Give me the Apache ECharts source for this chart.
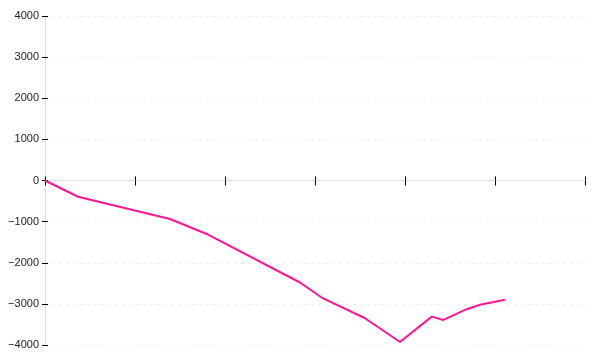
<!DOCTYPE html>
<html>
<head>
<meta charset="utf-8">
<script src="https://cdn.jsdelivr.net/npm/echarts@6/dist/echarts.min.js"></script>
<style>html,body{margin:0;padding:0;background:#fff}#c{width:600px;height:360px}</style>
</head>
<body>
<div id="c"></div>
<script>
// x positions (axis units, ticks at 0..6) and series values
var xValues = [0, 0.367, 1.389, 1.817, 2.833, 3.074, 3.556, 3.944, 4.297, 4.426, 4.686, 4.833, 5.111];
var yValues = [0, -395, -935, -1320, -2480, -2846, -3349, -3927, -3310, -3390, -3129, -3020, -2902];
var yTicks = [-4000, -3000, -2000, -1000, 0, 1000, 2000, 3000, 4000];

var data = xValues.map(function (x, i) { return [x, yValues[i]]; });

var chart = echarts.init(document.getElementById('c'));
var xBase = {
  type: 'value', min: 0, max: 6, interval: 1,
  axisLabel: { show: false },
  splitLine: { show: false },
  axisLine: { onZero: true, lineStyle: { color: '#ddd', width: 1 } }
};
var yBase = {
  type: 'value', min: yTicks[0], max: yTicks[yTicks.length - 1], interval: 1000,
  position: 'left'
};
chart.setOption({
  animation: false,
  grid: { left: 45, right: 15, top: 16, bottom: 15 },
  xAxis: [
    Object.assign({}, xBase, { position: 'bottom',
      axisTick: { show: true, inside: false, length: 5, lineStyle: { color: '#000', width: 1 } } }),
    Object.assign({}, xBase, { position: 'bottom',
      axisTick: { show: true, inside: true, length: 4, lineStyle: { color: '#000', width: 1 } } })
  ],
  yAxis: [
    Object.assign({}, yBase, {
      axisLine: { show: true, lineStyle: { color: '#ddd', width: 1 } },
      axisTick: { show: true, inside: false, length: 5, lineStyle: { color: '#000', width: 1, type: [3, 2] } },
      axisLabel: {
        show: true, margin: 6, color: '#222', fontSize: 11, fontFamily: 'Liberation Sans, Arial, sans-serif',
        formatter: function (v) { return String(v).replace('-', '\u2212'); }
      },
      splitLine: { show: true, lineStyle: { color: '#eee', width: 1, type: [3, 4] } }
    }),
    Object.assign({}, yBase, {
      axisLine: { show: false },
      axisTick: { show: true, inside: true, length: 4, lineStyle: { color: '#000', width: 1, type: [3, 2] } },
      axisLabel: { show: false },
      splitLine: { show: false }
    })
  ],
  series: [{
    type: 'line',
    xAxisIndex: 0, yAxisIndex: 0,
    data: data,
    showSymbol: false,
    symbol: 'none',
    lineStyle: { color: '#ff1493', width: 2 },
    itemStyle: { color: '#ff1493' }
  }]
});
</script>
</body>
</html>
